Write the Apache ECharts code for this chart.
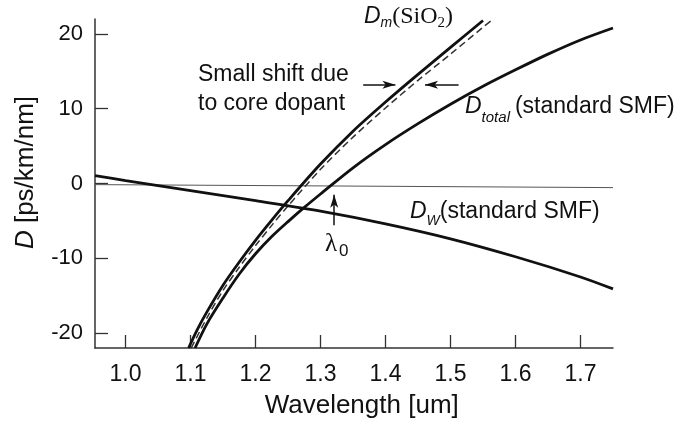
<!DOCTYPE html>
<html>
<head>
<meta charset="utf-8">
<script src="https://cdn.jsdelivr.net/npm/echarts@6/dist/echarts.min.js"></script>
<style>
  html, body { margin: 0; padding: 0; background: #fff; }
  #chart { width: 683px; height: 427px; }
</style>
</head>
<body>
<div id="chart"></div>
<script>
// Axis ticks
const xTicks = [1.0, 1.1, 1.2, 1.3, 1.4, 1.5, 1.6, 1.7];
const yTicks = [-20, -10, 0, 10, 20];

// Material dispersion of pure silica, D_m(SiO2)
const lamSilica = [1.097, 1.11, 1.125, 1.15, 1.175, 1.2, 1.225, 1.25, 1.3, 1.35, 1.4, 1.45, 1.5, 1.55];
const dmSilica  = [-22.0, -19.6, -17.2, -13.6, -10.5, -7.6, -4.9, -2.3, 2.6, 7.0, 10.9, 14.6, 18.2, 21.8];

// Material dispersion with core dopant (dashed)
const lamDoped = [1.101, 1.125, 1.15, 1.175, 1.2, 1.225, 1.25, 1.3, 1.35, 1.4, 1.45, 1.5, 1.55, 1.566];
const dmDoped  = [-22.0, -18.0, -14.3, -11.2, -8.3, -5.6, -3.0, 1.9, 6.2, 10.1, 13.8, 17.3, 20.9, 22.0];

// Total dispersion, standard SMF
const lamTotal = [1.107, 1.125, 1.15, 1.175, 1.2, 1.225, 1.25, 1.275, 1.3, 1.35, 1.4, 1.45, 1.5, 1.55, 1.6, 1.65, 1.7, 1.75];
const dTotal   = [-22.0, -18.8, -15.3, -12.1, -9.4, -7.1, -5.1, -3.2, -1.4, 2.1, 5.2, 8.0, 10.6, 13.0, 15.2, 17.3, 19.2, 20.8];

// Waveguide dispersion, standard SMF
const lamWave = [0.953, 1.0, 1.1, 1.2, 1.3, 1.4, 1.5, 1.6, 1.7, 1.75];
const dWave   = [1.05, 0.4, -0.95, -2.3, -3.7, -5.4, -7.4, -9.8, -12.5, -14.1];

// Zero reference line
const lamZero = [0.953, 1.75];
const dZero   = [-0.15, -0.55];

const INK = '#111';
const SANS = '"Liberation Sans", Arial, Helvetica, sans-serif';
const SERIF = '"Liberation Serif", "Times New Roman", serif';

const pairs = (xs, ys) => xs.map((x, i) => [x, ys[i]]);

// Lay out runs of text (normal / italic / subscript) along one baseline.
const measureCtx = document.createElement('canvas').getContext('2d');
function textRuns(x0, baseline, runs) {
  let x = x0;
  const out = [];
  runs.forEach(r => {
    const family = r.serif ? SERIF : SANS;
    const font = (r.italic ? 'italic ' : '') + r.size + 'px ' + family;
    measureCtx.font = font;
    const w = measureCtx.measureText(r.text).width;
    x += (r.pre || 0);
    out.push({
      type: 'text', silent: true, z: 50,
      x: x, y: baseline + (r.dy || 0) - 0.35 * r.size,
      style: { text: r.text, font: font, fill: INK, align: 'left', verticalAlign: 'middle' }
    });
    x += w;
  });
  return out;
}

const labels = [].concat(
  textRuns(198, 82.7, [{ text: 'Small shift due', size: 23 }]),
  textRuns(198, 111.7, [{ text: 'to core dopant', size: 23 }]),
  textRuns(364, 25, [
    { text: 'D', size: 23, italic: true },
    { text: 'm', size: 14, italic: true, dy: 3 },
    { text: '(SiO', size: 24, serif: true },
    { text: '2', size: 15, serif: true, dy: 3 },
    { text: ')', size: 24, serif: true }
  ]),
  textRuns(465, 115, [
    { text: 'D', size: 23, italic: true },
    { text: 'total', size: 15, italic: true, dy: 8 },
    { text: '(standard SMF)', size: 23, pre: 5 }
  ]),
  textRuns(410, 220, [
    { text: 'D', size: 23, italic: true },
    { text: 'W', size: 14, italic: true, dy: 6.5 },
    { text: '(standard SMF)', size: 23 }
  ]),
  textRuns(325, 253, [
    { text: 'λ', size: 25, serif: true },
    { text: '0', size: 17, pre: 2, dy: 4 }
  ])
);

const chart = echarts.init(document.getElementById('chart'), null, { renderer: 'canvas' });

const curveStyle = { color: INK, width: 2.8 };
const curveBase = { type: 'line', showSymbol: false, smooth: 0.3, silent: true };

chart.setOption({
  animation: false,
  backgroundColor: '#fff',
  grid: { left: 95, right: 70, top: 19, bottom: 79 },
  xAxis: {
    type: 'value', min: 0.953, max: 1.75,
    axisLine: { onZero: false, lineStyle: { color: '#333', width: 1.5 } },
    axisTick: { inside: true, length: 13, customValues: xTicks, lineStyle: { color: '#333', width: 1.3 } },
    axisLabel: {
      customValues: xTicks, margin: 15, color: INK, fontSize: 23, fontFamily: SANS,
      formatter: v => v.toFixed(1)
    },
    splitLine: { show: false }
  },
  yAxis: {
    type: 'value', min: -22, max: 22,
    axisLine: { show: true, onZero: false, lineStyle: { color: '#333', width: 1.5 } },
    axisTick: { show: true, inside: true, length: 13, customValues: yTicks, lineStyle: { color: '#333', width: 1.3 } },
    axisLabel: { customValues: yTicks, margin: 12, color: INK, fontSize: 22, fontFamily: SANS },
    splitLine: { show: false }
  },
  graphic: [
    {
      type: 'text', silent: true, x: 361.7, y: 406.3,
      style: { text: 'Wavelength [um]', fontSize: 26, fontFamily: SANS, fill: INK, align: 'center', verticalAlign: 'middle' }
    },
    {
      type: 'text', silent: true, x: 26, y: 172.5, rotation: Math.PI / 2,
      style: {
        text: '{i|D} [ps/km/nm]', fontSize: 26, fontFamily: SANS, fill: INK,
        align: 'center', verticalAlign: 'middle',
        rich: { i: { fontStyle: 'italic', fontSize: 26, fontFamily: SANS, fill: INK } }
      }
    }
  ].concat(labels),
  series: [
    {
      name: 'zero', type: 'line', data: pairs(lamZero, dZero), showSymbol: false, silent: true,
      lineStyle: { color: '#555', width: 1 }, z: 1
    },
    Object.assign({}, curveBase, {
      name: 'D_W', data: pairs(lamWave, dWave), lineStyle: curveStyle, z: 3
    }),
    Object.assign({}, curveBase, {
      name: 'D_m doped', data: pairs(lamDoped, dmDoped),
      lineStyle: { color: '#333', width: 1.5, type: [7, 4] }, z: 2
    }),
    Object.assign({}, curveBase, {
      name: 'D_m SiO2', data: pairs(lamSilica, dmSilica), lineStyle: curveStyle, z: 3,
      markLine: {
        silent: true, animation: false, symbol: ['none', 'arrow'],
        label: { show: false },
        lineStyle: { color: INK, width: 1.5, type: 'solid' },
        data: [
          [{ coord: [1.3656, 13.2], symbol: 'none' }, { coord: [1.4152, 13.2], symbol: 'arrow', symbolSize: [6, 13] }],
          [{ coord: [1.5124, 13.2], symbol: 'none' }, { coord: [1.4608, 13.2], symbol: 'arrow', symbolSize: [6, 13] }]
        ]
      }
    }),
    Object.assign({}, curveBase, {
      name: 'D_total', data: pairs(lamTotal, dTotal), lineStyle: curveStyle, z: 3,
      markLine: {
        silent: true, animation: false, symbol: ['none', 'arrow'],
        label: { show: false },
        lineStyle: { color: INK, width: 1.5, type: 'solid' },
        data: [
          [{ coord: [1.321, -5.6], symbol: 'none' }, { coord: [1.321, -1.5], symbol: 'arrow', symbolSize: [6, 13] }]
        ]
      }
    })
  ]
});
</script>
</body>
</html>
